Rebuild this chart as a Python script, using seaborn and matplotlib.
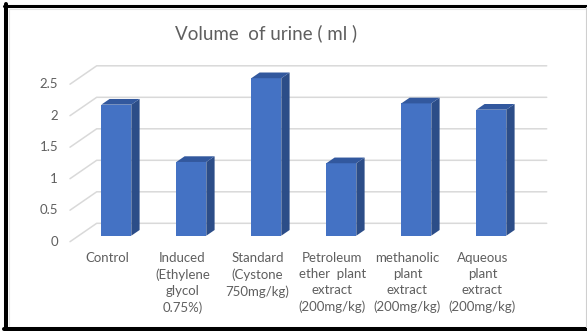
import numpy as np
import pandas as pd
import matplotlib
matplotlib.use("Agg")
import matplotlib.pyplot as plt
from matplotlib.patches import Polygon
from matplotlib.lines import Line2D
from matplotlib.transforms import IdentityTransform
import seaborn as sns

# ---- data -------------------------------------------------------------
categories = [
    "Control",
    "Induced\n(Ethylene\nglycol\n0.75%)",
    "Standard\n(Cystone\n750mg/kg)",
    "Petroleum\nether  plant\nextract\n(200mg/kg)",
    "methanolic\nplant\nextract\n(200mg/kg)",
    "Aqueous\nplant\nextract\n(200mg/kg)",
]
volumes = [2.08, 1.17, 2.5, 1.15, 2.1, 2.0]
y_ticks = [0, 0.5, 1, 1.5, 2, 2.5]
y_tick_labels = ["0", "0.5", "1", "1.5", "2", "2.5"]
title = "Volume  of urine ( ml )"

# ---- style ------------------------------------------------------------
W, H, DPI = 587, 331, 100
FRONT = "#4472C4"
SIDE = "#2C4D88"
TOP = "#32589E"
GRID = "#D9D9D9"
TEXT = "#5F5F5F"

sns.set_theme(style="white")
plt.rcParams["font.family"] = ["Lato", "DejaVu Sans"]

fig = plt.figure(figsize=(W / DPI, H / DPI), dpi=DPI, facecolor="white")

# plot area of the bar front faces, in pixels
left_px, right_px = 78.8, 528.8
bottom_px, top_px = 235.7, 78.2
ax = fig.add_axes([left_px / W, (H - bottom_px) / H,
                   (right_px - left_px) / W, (bottom_px - top_px) / H])

df = pd.DataFrame({"group": categories, "volume": volumes})
sns.barplot(data=df, x="group", y="volume", color=FRONT, saturation=1,
            width=0.4, linewidth=0, ax=ax, zorder=3)
ax.set_xlim(-0.5, len(categories) - 0.5)
ax.set_ylim(0, 2.5)
ax.set_axis_off()

# oblique depth offsets (display pixels) relative to the bar front plane
FRONT_PLANE = (-8.8, -6.0)
BAR_DEPTH = (8.3, 5.7)
BACK_WALL = (17.9, 12.4)


def shifted(x, y, d):
    px, py = ax.transData.transform((x, y))
    return (px + d[0], py + d[1])


ident = IdentityTransform()

# back wall gridlines plus the diagonal floor-to-wall strokes
x_lo, x_hi = ax.get_xlim()
for v, lab in zip(y_ticks, y_tick_labels):
    a = shifted(x_lo, v, FRONT_PLANE)
    b = shifted(x_lo, v, BACK_WALL)
    c = shifted(x_hi, v, BACK_WALL)
    ax.add_line(Line2D([a[0], b[0], c[0]], [a[1], b[1], c[1]], color=GRID,
                       lw=1.1, transform=ident, clip_on=False, zorder=1))
    tx, ty = shifted(x_lo, v, (FRONT_PLANE[0] - 12, FRONT_PLANE[1]))
    ax.text(tx, ty, lab, transform=ident, ha="right", va="center",
            fontsize=9.5, color=TEXT, clip_on=False)

# side and top faces of each column
for p in ax.patches[:len(volumes)]:
    x0, w, h = p.get_x(), p.get_width(), p.get_height()
    x1 = x0 + w
    side = [shifted(x1, 0, (0, 0)), shifted(x1, h, (0, 0)),
            shifted(x1, h, BAR_DEPTH), shifted(x1, 0, BAR_DEPTH)]
    top = [shifted(x0, h, (0, 0)), shifted(x1, h, (0, 0)),
           shifted(x1, h, BAR_DEPTH), shifted(x0, h, BAR_DEPTH)]
    ax.add_patch(Polygon(side, closed=True, facecolor=SIDE, edgecolor="none",
                         transform=ident, clip_on=False, zorder=2))
    ax.add_patch(Polygon(top, closed=True, facecolor=TOP, edgecolor="none",
                         transform=ident, clip_on=False, zorder=4))

# category labels on the front plane
for i, lab in enumerate(categories):
    tx, ty = shifted(i, 0, (FRONT_PLANE[0], FRONT_PLANE[1] - 10))
    ax.text(tx, ty, lab, transform=ident, ha="center", va="top",
            fontsize=9.5, color=TEXT, linespacing=1.42, clip_on=False)

fig.text(265.7 / W, 1 - 33 / H, title, ha="center", va="center",
         fontsize=13.5, color=TEXT)


# frame around the chart
def fx(px):
    return px / W


def fy(py):
    return 1 - py / H


fig.add_artist(Line2D([fx(6), fx(6)], [fy(4), fy(331)], color="black", lw=2.9))
fig.add_artist(Line2D([fx(4), fx(587)], [fy(5.5), fy(5.5)], color="black", lw=2.2))
fig.add_artist(Line2D([fx(4), fx(587)], [fy(329.2), fy(329.2)], color="black", lw=2.9))
fig.add_artist(Line2D([fx(586), fx(586)], [fy(7), fy(327)], color="#CFCFCF", lw=0.8))
fig.add_artist(Line2D([fx(9), fx(585)], [fy(8.5), fy(8.5)], color="#E6E6E6", lw=0.8))
fig.add_artist(Line2D([fx(9), fx(9)], [fy(8.5), fy(326)], color="#E6E6E6", lw=0.8))

fig.savefig("out.png", dpi=DPI, facecolor="white")
